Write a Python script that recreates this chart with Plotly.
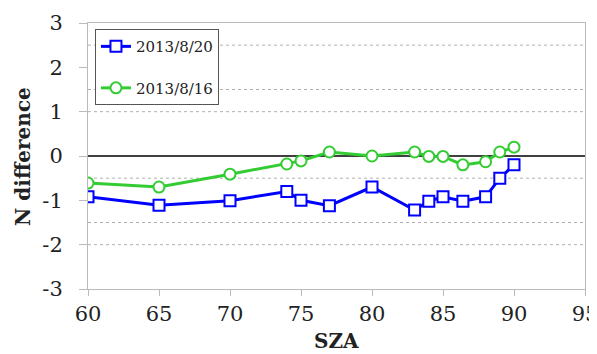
import plotly.graph_objects as go

# Data
sza_0820 = [60, 65, 70, 74, 75, 77, 80, 83, 84, 85, 86.4, 88, 89, 90]
n_0820 = [-0.92, -1.11, -1.01, -0.80, -1.00, -1.12, -0.70, -1.22, -1.02, -0.92, -1.02, -0.92, -0.50, -0.20]
sza_0816 = [60, 65, 70, 74, 75, 77, 80, 83, 84, 85, 86.4, 88, 89, 90]
n_0816 = [-0.61, -0.70, -0.41, -0.18, -0.11, 0.09, 0.00, 0.09, -0.01, -0.01, -0.20, -0.13, 0.09, 0.20]
label_0820 = "2013/8/20"
label_0816 = "2013/8/16"
grid_values = [2.5, 1.5, 1.0, -0.5, -1.5, -2.0]
x_ticks = [60, 65, 70, 75, 80, 85, 90, 95]
y_ticks = [-3, -2, -1, 0, 1, 2, 3]
y_tick_text = ["-3", "-2", "-1", "0", "1", "2", "3"]

FONT = "DejaVu Serif"

fig = go.Figure()
fig.add_trace(go.Scatter(
    x=sza_0820, y=n_0820, name=label_0820, mode="lines+markers",
    line=dict(color="#0000ff", width=3),
    marker=dict(symbol="square", size=11, color="white", line=dict(color="#0000ff", width=2)),
    legendgroup="a",
))
fig.add_trace(go.Scatter(
    x=sza_0816, y=n_0816, name=label_0816, mode="lines+markers",
    line=dict(color="#33cc33", width=3),
    marker=dict(symbol="circle", size=11, color="white", line=dict(color="#33cc33", width=2)),
    legendgroup="b",
))

shapes = []
for g in grid_values:
    shapes.append(dict(type="line", xref="paper", yref="y", x0=0, x1=1, y0=g, y1=g,
                       line=dict(color="#b0b0b0", width=1, dash="dot"), layer="below"))
shapes.append(dict(type="line", xref="paper", yref="y", x0=0, x1=1, y0=0, y1=0,
                   line=dict(color="black", width=1.5), layer="below"))
fig.update_layout(shapes=shapes)

fig.update_layout(
    width=597, height=354,
    margin=dict(l=80, r=20, t=15, b=73),
    paper_bgcolor="white", plot_bgcolor="white",
    font=dict(family=FONT, size=22, color="#222222"),
    showlegend=True,
    legend=dict(
        x=0.014, y=0.977, xanchor="left", yanchor="top",
        bgcolor="white", bordercolor="#555555", borderwidth=1,
        font=dict(family=FONT, size=15, color="#222222"),
        tracegroupgap=19, traceorder="grouped",
    ),
    xaxis=dict(
        range=[60, 95], tickvals=x_ticks, showgrid=False, zeroline=False,
        showline=True, linecolor="#bbbbbb", linewidth=1, mirror=True,
        ticks="outside", ticklen=6, tickcolor="#bbbbbb", automargin=False,
        tickfont=dict(family=FONT, size=21, color="#222222"),
    ),
    yaxis=dict(
        range=[-3, 3], tickvals=y_ticks, ticktext=y_tick_text,
        showgrid=False, zeroline=False,
        showline=True, linecolor="#bbbbbb", linewidth=1, mirror=True,
        ticks="outside", ticklen=8, tickcolor="#bbbbbb", automargin=False,
        ticklabelstandoff=12,
        tickfont=dict(family=FONT, size=21, color="#222222"),
    ),
    annotations=[
        dict(text="<b>SZA</b>", xref="paper", yref="paper", x=0.5, y=-0.195,
             xanchor="center", yanchor="middle", showarrow=False,
             font=dict(family=FONT, size=20, color="#222222")),
        dict(text="<b>N difference</b>", xref="paper", yref="paper", x=-0.131, y=0.5,
             xanchor="center", yanchor="middle", textangle=-90, showarrow=False,
             font=dict(family=FONT, size=20, color="#222222")),
    ],
)

fig.write_html("out.html")
